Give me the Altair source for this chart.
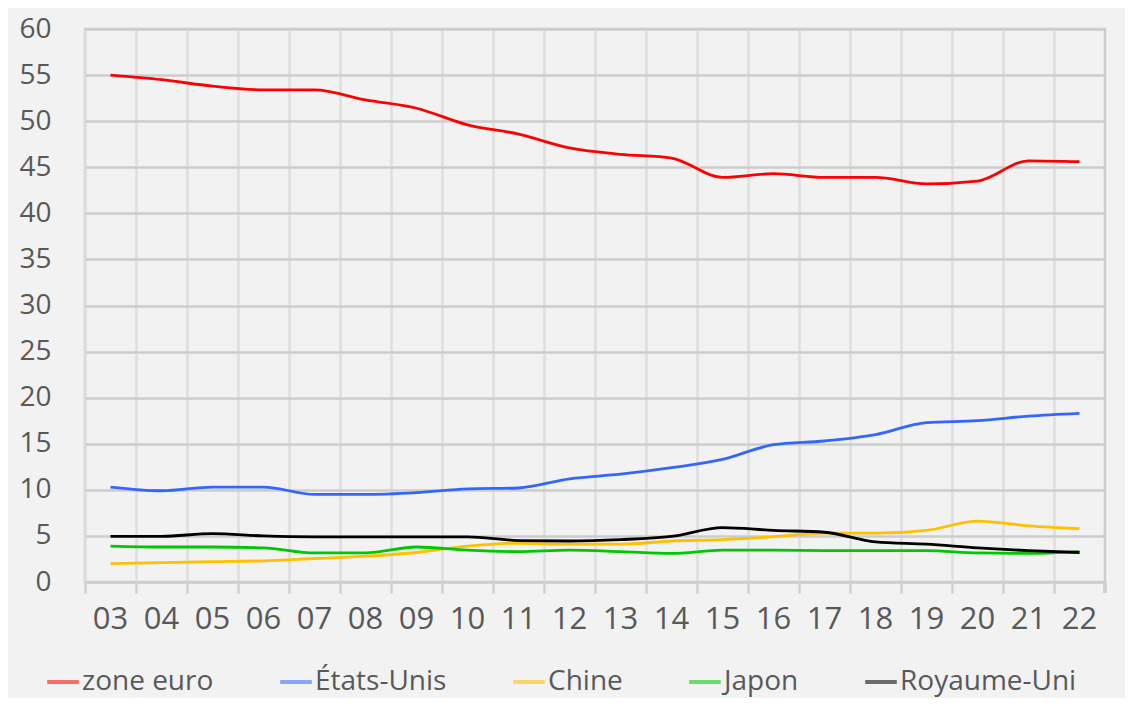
import altair as alt
import pandas as pd

years = ["03", "04", "05", "06", "07", "08", "09", "10", "11", "12",
         "13", "14", "15", "16", "17", "18", "19", "20", "21", "22"]
zone_euro = [55.0, 54.5, 53.8, 53.4, 53.4, 52.3, 51.4, 49.6, 48.6, 47.1,
             46.4, 46.0, 43.9, 44.3, 43.9, 43.9, 43.2, 43.5, 45.7, 45.6]
etats_unis = [10.3, 9.9, 10.3, 10.3, 9.5, 9.5, 9.7, 10.1, 10.2, 11.2,
              11.7, 12.4, 13.3, 14.9, 15.3, 16.0, 17.3, 17.5, 18.0, 18.3]
chine = [2.0, 2.1, 2.2, 2.3, 2.55, 2.8, 3.2, 3.9, 4.2, 4.1,
         4.1, 4.45, 4.6, 4.9, 5.3, 5.3, 5.6, 6.6, 6.1, 5.8]
japon = [3.9, 3.8, 3.8, 3.7, 3.15, 3.15, 3.8, 3.45, 3.3, 3.45,
         3.3, 3.1, 3.45, 3.45, 3.4, 3.4, 3.4, 3.15, 3.1, 3.3]
royaume_uni = [4.95, 4.95, 5.25, 5.0, 4.9, 4.9, 4.9, 4.9, 4.5, 4.45,
               4.6, 4.95, 5.9, 5.6, 5.4, 4.35, 4.1, 3.7, 3.4, 3.2]

series_names = ["zone euro", "États-Unis", "Chine", "Japon", "Royaume-Uni"]
series_values = [zone_euro, etats_unis, chine, japon, royaume_uni]
series_colors = ["#ff0000", "#3366ff", "#ffc000", "#00c800", "#000000"]
y_ticks = list(range(0, 61, 5))

rows = []
for name, vals in zip(series_names, series_values):
    for yr, v in zip(years, vals):
        rows.append({"annee": yr, "valeur": v, "serie": name,
                     "ordre": series_names.index(name)})
df = pd.DataFrame(rows)

FONT = "Open Sans"
LABEL_COLOR = "#595959"

lines = alt.Chart(df).mark_line(interpolate="monotone", strokeWidth=2.8).encode(
    x=alt.X("annee:O", sort=years, title=None,
            scale=alt.Scale(type="band", paddingInner=0, paddingOuter=0),
            bandPosition=0.5,
            axis=alt.Axis(bandPosition=0, grid=True, gridColor="#dedede",
                          gridWidth=2.5, ticks=True, tickColor="#d0d0d0",
                          tickWidth=2.5, tickSize=11, domain=False,
                          labelAngle=0, labelFont=FONT, labelFontSize=31,
                          labelColor=LABEL_COLOR, labelPadding=11)),
    y=alt.Y("valeur:Q", title=None,
            scale=alt.Scale(domain=[0, 60], nice=False),
            axis=alt.Axis(values=y_ticks, grid=True, gridColor="#cccccc",
                          gridWidth=2.5, ticks=False, domain=False,
                          labelFont=FONT, labelFontSize=28,
                          labelColor=LABEL_COLOR, labelPadding=34)),
    color=alt.Color("serie:N", sort=series_names,
                    scale=alt.Scale(domain=series_names, range=series_colors),
                    legend=alt.Legend(title=None, orient="none",
                                      direction="horizontal", columns=5,
                                      legendX=-40, legendY=635,
                                      symbolType="stroke", symbolSize=1000,
                                      symbolStrokeWidth=4, symbolOpacity=0.55,
                                      labelFont=FONT, labelFontSize=28,
                                      labelLimit=0,
                                      labelColor=LABEL_COLOR, labelOffset=1,
                                      columnPadding=58, padding=0)),
    order=alt.Order("ordre:Q"),
)

edge_tick = alt.Chart(df).mark_rule(color="#d0d0d0", strokeWidth=2.5).encode(
    x=alt.value(1020), y=alt.value(553), y2=alt.value(564)
)

chart = alt.layer(lines, edge_tick).properties(
    width=1020, height=553,
    autosize="none",
    padding={"left": 77, "top": 21, "right": 20, "bottom": 116},
    background="#f2f2f2",
).configure_view(stroke="#cccccc", strokeWidth=2.5)

chart.save("out.html", embed_options={"renderer": "svg", "actions": False})
